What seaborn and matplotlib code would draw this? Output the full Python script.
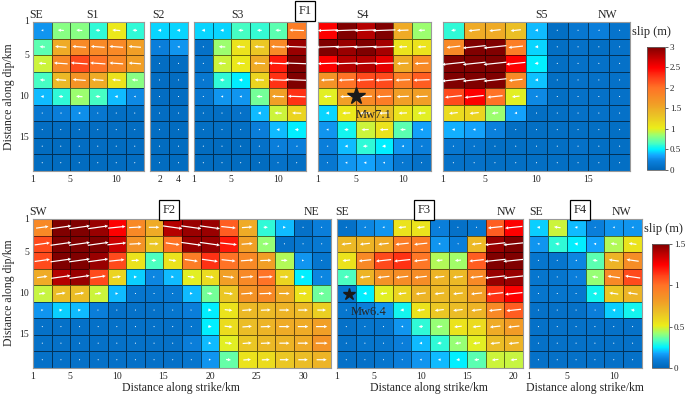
import numpy as np
import matplotlib
matplotlib.use("Agg")
import matplotlib.pyplot as plt
import seaborn as sns
from matplotlib.colors import LinearSegmentedColormap, Normalize
from matplotlib.cm import ScalarMappable

# ---------------- data (slip in m, rows = dip, cols = strike) ----------------
s1 = [
    [0.30, 0.80, 0.80, 0.60, 1.05, 0.60],
    [0.70, 1.50, 1.80, 1.80, 1.80, 1.60],
    [0.95, 1.80, 2.20, 2.00, 1.80, 1.60],
    [0.65, 1.40, 1.70, 1.50, 1.10, 0.80],
    [0.40, 0.60, 0.85, 0.65, 0.40, 0.25],
    [0.15, 0.20, 0.28, 0.15, 0.08, 0.08],
    [0.06, 0.06, 0.06, 0.06, 0.06, 0.06],
    [0.05, 0.05, 0.06, 0.06, 0.05, 0.06],
    [0.05, 0.05, 0.05, 0.05, 0.05, 0.06],
]
s2 = [
    [0.45, 0.45], [0.20, 0.30], [0.06, 0.06], [0.07, 0.06], [0.07, 0.06],
    [0.06, 0.06], [0.06, 0.05], [0.05, 0.05], [0.05, 0.05],
]
s3 = [
    [0.45, 0.45, 0.65, 0.62, 0.70, 1.90],
    [0.10, 0.85, 1.10, 1.30, 1.80, 2.90],
    [0.10, 0.95, 1.05, 1.50, 2.40, 3.00],
    [0.15, 0.60, 0.50, 1.20, 2.30, 3.00],
    [0.15, 0.30, 0.30, 0.75, 1.60, 2.30],
    [0.08, 0.08, 0.10, 0.40, 0.95, 1.20],
    [0.08, 0.08, 0.08, 0.20, 0.40, 0.50],
    [0.05, 0.05, 0.05, 0.10, 0.20, 0.20],
    [0.05, 0.05, 0.05, 0.05, 0.10, 0.08],
]
s4 = [
    [2.50, 3.00, 2.80, 3.00, 1.50, 0.85],
    [3.00, 2.90, 3.00, 2.85, 1.10, 1.10],
    [2.50, 2.80, 2.80, 2.60, 1.50, 1.80],
    [1.70, 2.00, 2.20, 2.20, 1.90, 2.10],
    [1.00, 1.60, 1.80, 1.90, 1.60, 1.60],
    [0.45, 1.05, 1.40, 1.35, 1.10, 1.00],
    [0.30, 0.55, 0.95, 1.10, 0.70, 0.35],
    [0.20, 0.40, 0.60, 0.50, 0.30, 0.20],
    [0.15, 0.30, 0.35, 0.28, 0.15, 0.10],
]
s5 = [
    [0.60, 1.50, 1.50, 1.35, 0.40, 0.08, 0.15, 0.20, 0.12],
    [1.80, 3.00, 3.00, 1.90, 0.45, 0.08, 0.10, 0.08, 0.10],
    [3.00, 3.00, 3.00, 2.50, 0.50, 0.08, 0.10, 0.10, 0.10],
    [3.00, 3.00, 3.00, 1.80, 0.42, 0.08, 0.10, 0.10, 0.10],
    [2.20, 2.50, 2.00, 1.00, 0.25, 0.08, 0.10, 0.10, 0.10],
    [1.15, 1.20, 0.85, 0.35, 0.08, 0.08, 0.10, 0.10, 0.10],
    [0.38, 0.35, 0.22, 0.08, 0.08, 0.08, 0.08, 0.08, 0.08],
    [0.15, 0.12, 0.08, 0.08, 0.08, 0.08, 0.10, 0.08, 0.08],
    [0.10, 0.10, 0.08, 0.08, 0.08, 0.08, 0.08, 0.08, 0.08],
]
f2 = [
    [0.90, 1.50, 1.50, 1.45, 1.25, 0.90, 0.75, 1.40, 1.45, 1.45, 1.05, 0.75, 0.30, 0.20, 0.05, 0.10],
    [1.10, 1.50, 1.50, 1.50, 1.35, 0.85, 0.65, 1.00, 1.45, 1.45, 1.20, 0.80, 0.42, 0.05, 0.07, 0.08],
    [1.10, 1.50, 1.50, 1.45, 1.10, 0.55, 0.33, 0.55, 0.95, 1.15, 1.00, 0.90, 0.80, 0.45, 0.15, 0.07],
    [0.75, 1.40, 1.45, 1.10, 0.60, 0.22, 0.12, 0.20, 0.50, 0.58, 0.80, 0.90, 1.00, 0.60, 0.25, 0.12],
    [0.47, 0.68, 0.68, 0.48, 0.20, 0.07, 0.07, 0.08, 0.20, 0.38, 0.65, 0.85, 0.90, 0.75, 0.55, 0.37],
    [0.15, 0.22, 0.20, 0.10, 0.05, 0.05, 0.05, 0.07, 0.10, 0.25, 0.55, 0.70, 0.70, 0.72, 0.70, 0.62],
    [0.05, 0.05, 0.05, 0.05, 0.05, 0.05, 0.05, 0.05, 0.07, 0.25, 0.57, 0.68, 0.72, 0.75, 0.75, 0.80],
    [0.05, 0.05, 0.05, 0.05, 0.05, 0.05, 0.05, 0.05, 0.10, 0.20, 0.50, 0.65, 0.70, 0.72, 0.75, 0.85],
    [0.05, 0.05, 0.05, 0.05, 0.05, 0.05, 0.05, 0.05, 0.07, 0.15, 0.36, 0.55, 0.57, 0.65, 0.68, 0.72],
]
f3 = [
    [0.05, 0.12, 0.15, 0.55, 0.55, 0.10, 0.05, 0.07, 1.05, 1.25],
    [0.70, 0.72, 0.75, 0.95, 0.95, 0.15, 0.10, 0.70, 1.45, 1.50],
    [0.55, 0.90, 1.10, 1.15, 0.98, 0.45, 0.43, 1.05, 1.50, 1.50],
    [0.33, 0.72, 0.85, 0.88, 0.88, 0.72, 0.70, 0.90, 1.45, 1.45],
    [0.07, 0.25, 0.50, 0.60, 0.72, 0.70, 0.70, 0.80, 1.15, 1.25],
    [0.07, 0.10, 0.15, 0.27, 0.55, 0.65, 0.68, 0.72, 0.90, 1.05],
    [0.05, 0.07, 0.07, 0.15, 0.30, 0.42, 0.55, 0.58, 0.75, 0.82],
    [0.05, 0.07, 0.07, 0.10, 0.20, 0.30, 0.42, 0.50, 0.68, 0.72],
    [0.05, 0.05, 0.07, 0.10, 0.15, 0.20, 0.25, 0.35, 0.48, 0.47],
]
f4 = [
    [0.22, 0.48, 0.20, 0.10, 0.15, 0.15],
    [0.15, 0.30, 0.25, 0.18, 0.45, 0.55],
    [0.07, 0.07, 0.12, 0.35, 0.72, 0.88],
    [0.07, 0.07, 0.10, 0.42, 0.90, 1.10],
    [0.07, 0.07, 0.07, 0.27, 0.65, 0.72],
    [0.05, 0.05, 0.05, 0.10, 0.22, 0.27],
    [0.05, 0.05, 0.05, 0.05, 0.05, 0.05],
    [0.05, 0.05, 0.05, 0.05, 0.05, 0.05],
    [0.05, 0.05, 0.05, 0.05, 0.05, 0.05],
]
# rake direction of slip vectors (degrees on screen, 0 = pointing right)
rake_s1 = 176
rake_s2 = 178
rake_s3 = 178
rake_s4 = 182
rake_s5 = 186
rake_f2 = [8, 8, 8, 8, 6, 3, 0, -8, -8, -8, -6, 4, 2, 0, 0, 0]
rake_f3 = 186
rake_f4 = 172

xt_s1 = [1, 5, 10]
xt_s2 = [2, 4]
xt_s3 = [1, 5, 10]
xt_s4 = [1, 5, 10]
xt_s5 = [1, 5, 10, 15]
xt_f2 = [1, 5, 10, 15, 20, 25, 30]
xt_f3 = [1, 5, 10, 15, 20]
xt_f4 = [1, 5, 10]
yt_dip = [1, 5, 10, 15]
cb_top = [0, 0.5, 1, 1.5, 2, 2.5, 3]
cb_bot = [0, 0.5, 1, 1.5]

# ---------------- style ----------------
sns.set_theme(style="white")
plt.rcParams["font.family"] = ["Liberation Serif", "DejaVu Serif"]

cmap = LinearSegmentedColormap.from_list("slipjet", [
    (0.00, (0.00, 0.40, 0.72)),
    (0.07, (0.04, 0.50, 0.86)),
    (0.12, (0.08, 0.65, 1.00)),
    (0.167, (0.00, 0.95, 1.00)),
    (0.22, (0.30, 1.00, 0.75)),
    (0.28, (0.60, 1.00, 0.45)),
    (0.34, (0.92, 0.93, 0.10)),
    (0.45, (0.92, 0.75, 0.15)),
    (0.55, (0.95, 0.60, 0.15)),
    (0.667, (1.00, 0.45, 0.15)),
    (0.75, (1.00, 0.25, 0.10)),
    (0.833, (1.00, 0.00, 0.00)),
    (0.92, (0.75, 0.00, 0.00)),
    (1.00, (0.50, 0.00, 0.00)),
])

W, H = 685, 398
fig = plt.figure(figsize=(W / 100, H / 100), dpi=100)


def rect(x0, y0, x1, y1):
    return [x0 / W, 1 - y1 / H, (x1 - x0) / W, (y1 - y0) / H]


def km2cell(k):
    return (k - 1) / 2.0


def panel(data, rake, box, xt, vmax, yticks, arrow_scale):
    arr = np.array(data, dtype=float)
    nr, nc = arr.shape
    ax = fig.add_axes(rect(*box))
    sns.heatmap(arr, ax=ax, cmap=cmap, vmin=0, vmax=vmax, cbar=False,
                linewidths=0.5, linecolor=(0, 0, 0, 0.55))
    for sp in ax.spines.values():
        sp.set_visible(True)
        sp.set_color("0.6")
        sp.set_linewidth(0.8)
    ax.set_xticks([km2cell(k) for k in xt])
    ax.set_xticklabels([str(k) for k in xt], rotation=0)
    if yticks:
        ax.set_yticks([km2cell(k) for k in yt_dip])
        ax.set_yticklabels([str(k) for k in yt_dip], rotation=0)
    else:
        ax.set_yticks([])
    ax.tick_params(length=0, labelsize=7, pad=3)
    ax.set_xlabel("")
    ax.set_ylabel("")
    X, Y = np.meshgrid(np.arange(nc) + 0.5, np.arange(nr) + 0.5)
    ang = np.deg2rad(np.broadcast_to(np.array(rake, dtype=float), (nr, nc)))
    U = arr * np.cos(ang)
    V = arr * np.sin(ang)
    ax.quiver(X, Y, U, V, angles="uv", scale_units="inches", scale=arrow_scale,
              pivot="mid", color="white", units="inches", width=0.012,
              headwidth=2.8, headlength=2.8, headaxislength=2.5, zorder=3)
    ax.set_xlim(0, nc)
    ax.set_ylim(nr, 0)
    return ax


top = (22, 171)
bot = (219, 368)
sc_top = 3 / 0.23
sc_bot = 1.5 / 0.21

ax_s1 = panel(s1, rake_s1, (33, top[0], 144, top[1]), xt_s1, 3, True, sc_top)
ax_s2 = panel(s2, rake_s2, (150, top[0], 188, top[1]), xt_s2, 3, False, sc_top)
ax_s3 = panel(s3, rake_s3, (194, top[0], 306, top[1]), xt_s3, 3, False, sc_top)
ax_s4 = panel(s4, rake_s4, (318, top[0], 431, top[1]), xt_s4, 3, False, sc_top)
ax_s5 = panel(s5, rake_s5, (443, top[0], 630, top[1]), xt_s5, 3, False, sc_top)

ax_f2 = panel(f2, rake_f2, (33, bot[0], 331, bot[1]), xt_f2, 1.5, True, sc_bot)
ax_f3 = panel(f3, rake_f3, (337, bot[0], 523, bot[1]), xt_f3, 1.5, False, sc_bot)
ax_f4 = panel(f4, rake_f4, (529, bot[0], 642, bot[1]), xt_f4, 1.5, False, sc_bot)

# epicentres
ax_s4.plot(km2cell(5), km2cell(10), marker="*", ms=13, color="k", mec="k", zorder=5)
ax_s4.text(km2cell(5), km2cell(12.2), "Mw7.1", fontsize=9, va="center", ha="left", zorder=5)
ax_f3.plot(km2cell(2.3), km2cell(10), marker="*", ms=9, color="k", mec="k", zorder=5)
ax_f3.text(km2cell(2.5), km2cell(12.2), "Mw6.4", fontsize=9, va="center", ha="left", zorder=5)

# colorbars
for (cb_box, vmax, ticks) in [((647, 47, 665, 170), 3, cb_top), ((652, 244, 669, 368), 1.5, cb_bot)]:
    cax = fig.add_axes(rect(*cb_box))
    cb = fig.colorbar(ScalarMappable(norm=Normalize(0, vmax), cmap=cmap), cax=cax, ticks=ticks)
    cb.ax.set_yticklabels([f"{t:g}" for t in ticks])
    cb.ax.tick_params(labelsize=6.5, length=2, width=0.5, pad=1.5)
    cb.outline.set_edgecolor("0.4")
    cb.outline.set_linewidth(0.6)


def ftext(x, y, s, size=8.5, box=False, **kw):
    kw2 = dict(ha="center", va="center", fontsize=size)
    kw2.update(kw)
    if box:
        kw2["bbox"] = dict(boxstyle="square,pad=0.3", fc="white", ec="black", lw=0.9)
    fig.text(x / W, 1 - y / H, s, **kw2)


# top labels
ftext(36, 15, "SE")
ftext(92, 15, "S1")
ftext(158, 15, "S2")
ftext(237, 15, "S3")
ftext(305, 11, "F1", size=9, box=True)
ftext(362, 15, "S4")
ftext(542, 15, "S5")
ftext(607, 15, "NW")
ftext(651, 32, "slip (m)", size=9)

# bottom labels
ftext(38, 212, "SW")
ftext(169, 210, "F2", size=9, box=True)
ftext(311, 212, "NE")
ftext(342, 212, "SE")
ftext(424, 210, "F3", size=9, box=True)
ftext(506, 212, "NW")
ftext(536, 212, "SE")
ftext(580, 210, "F4", size=9, box=True)
ftext(621, 212, "NW")
ftext(663, 229, "slip (m)", size=9)

ftext(181, 388, "Distance along strike/km", size=8.5)
ftext(429, 388, "Distance along strike/km", size=8.5)
ftext(585, 388, "Distance along strike/km", size=8.5)
ftext(9, 97, "Distance along dip/km", size=8.5, rotation=90)
ftext(9, 293, "Distance along dip/km", size=8.5, rotation=90)

fig.savefig("out.png", dpi=100)
